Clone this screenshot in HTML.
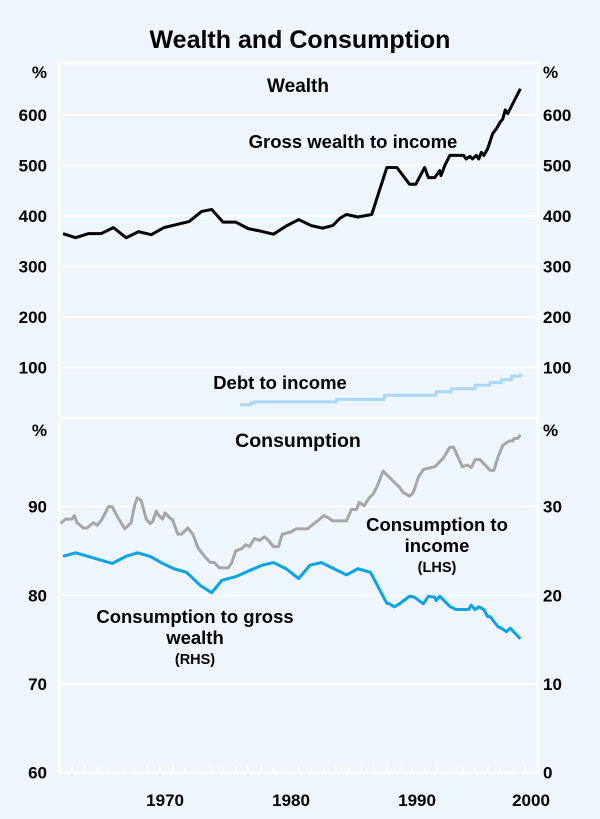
<!DOCTYPE html>
<html><head><meta charset="utf-8">
<style>
html,body{margin:0;padding:0;background:#eef5fc;}
svg{display:block;font-family:"Liberation Sans",Arial,sans-serif;font-weight:bold;}
</style></head>
<body>
<svg id="chart" width="600" height="819" viewBox="0 0 600 819" xmlns="http://www.w3.org/2000/svg">
<rect x="0" y="0" width="600" height="819" fill="#eef5fc"/>
<text x="300" y="48" text-anchor="middle" font-size="25" fill="#000">Wealth and Consumption</text>
<g id="grid"></g>
<g id="series"></g>
<g id="labels"></g>
<text x="298" y="92" text-anchor="middle" font-size="19">Wealth</text>
<text x="353" y="148" text-anchor="middle" font-size="18.5">Gross wealth to income</text>
<text x="280" y="389" text-anchor="middle" font-size="18.5">Debt to income</text>
<text x="298" y="447" text-anchor="middle" font-size="19.5">Consumption</text>
<text x="437" y="531" text-anchor="middle" font-size="18.5">Consumption to</text>
<text x="437" y="552" text-anchor="middle" font-size="18.5">income</text>
<text x="437" y="572" text-anchor="middle" font-size="14.5">(LHS)</text>
<text x="195" y="623" text-anchor="middle" font-size="18.5">Consumption to gross</text>
<text x="195" y="644" text-anchor="middle" font-size="18.5">wealth</text>
<text x="195" y="664" text-anchor="middle" font-size="14.5">(RHS)</text>
</svg>
<script>
const wealthYears=[1962.3,1963.3,1964.3,1965.3,1966.3,1967.3,1968.3,1969.3,1970.3,1971.3,1972.3,1973.3,1974.1,1975.0,1976.0,1977.0,1978.0,1979.0,1980.0,1981.0,1982.0,1982.9,1983.7,1984.3,1984.8,1985.7,1986.8,1988.0,1988.8,1989.8,1990.3,1991.0,1991.3,1991.8,1992.2,1992.3,1992.6,1993.0,1994.1,1994.3,1994.6,1994.8,1995.1,1995.3,1995.5,1995.7,1996.0,1996.4,1996.7,1997.0,1997.2,1997.4,1997.6,1998.6];
const wealthValues=[365,357,365,365,377,357,369,363,377,383,389,409,413,388,388,375,370,364,380,393,381,376,381,396,403,398,403,496,496,463,463,496,476,476,490,480,500,520,520,513,518,513,520,513,526,520,533,563,573,586,592,610,603,652];
const debtYears=[1976.35,1977.2,1977.5,1984.0,1987.8,1991.9,1993.1,1995.0,1996.2,1997.1,1997.9,1998.6];
const debtValues=[26,30,32,37,45,52,58,65,70,76,83,88];
const consYears=[1962.1,1962.5,1963.0,1963.2,1963.4,1963.9,1964.2,1964.7,1965.0,1965.4,1965.9,1966.2,1966.6,1967.2,1967.7,1968.0,1968.2,1968.5,1968.9,1969.2,1969.4,1969.7,1969.9,1970.2,1970.4,1970.8,1971.0,1971.4,1971.7,1972.2,1972.6,1973.0,1973.2,1973.6,1974.0,1974.3,1974.7,1975.4,1975.7,1976.0,1976.5,1976.8,1977.1,1977.5,1977.9,1978.3,1978.6,1979.0,1979.4,1979.7,1980.3,1980.8,1981.7,1982.5,1983.0,1983.3,1983.7,1984.8,1985.2,1985.6,1985.8,1986.2,1986.6,1986.9,1987.2,1987.4,1987.7,1989.0,1989.3,1989.8,1990.1,1990.5,1990.9,1991.8,1992.5,1993.0,1993.3,1994.0,1994.4,1994.7,1995.0,1995.4,1996.2,1996.5,1996.8,1997.2,1997.7,1998.0,1998.1,1998.4,1998.6];
const consValues=[88.1,88.6,88.6,89.0,88.2,87.6,87.6,88.2,87.9,88.6,90.0,90.0,88.9,87.5,88.2,90.3,91.0,90.7,88.6,88.1,88.3,89.5,89.0,88.6,89.3,88.7,88.5,86.9,86.9,87.6,86.9,85.4,85.0,84.3,83.7,83.7,83.1,83.1,83.7,85.0,85.3,85.7,85.5,86.4,86.2,86.6,86.2,85.5,85.5,86.9,87.1,87.5,87.5,88.4,89.0,88.8,88.4,88.4,89.7,89.7,90.5,90.1,91.0,91.4,92.2,92.9,94.0,92.2,91.6,91.2,91.6,93.3,94.2,94.5,95.5,96.7,96.7,94.5,94.7,94.4,95.3,95.3,94.1,94.1,95.5,96.9,97.4,97.4,97.7,97.7,98.1];
const cwYears=[1962.3,1963.3,1966.2,1967.3,1968.2,1969.2,1970.2,1971.1,1972.1,1973.2,1974.1,1974.9,1976.0,1977.1,1978.1,1979.0,1980.0,1981.0,1981.9,1982.8,1983.8,1984.8,1985.7,1986.7,1988.0,1988.2,1988.6,1989.0,1989.8,1990.2,1990.6,1990.9,1991.3,1991.8,1991.9,1992.2,1993.0,1993.5,1994.5,1994.7,1995.0,1995.3,1995.7,1996.0,1996.2,1996.8,1997.2,1997.5,1997.8,1998.6];
const cwValues=[24.4,24.8,23.6,24.4,24.8,24.4,23.6,23.0,22.6,21.1,20.3,21.7,22.1,22.8,23.4,23.7,23.0,21.9,23.4,23.7,23.0,22.3,23.0,22.6,19.1,19.05,18.7,19.05,19.9,19.8,19.35,19.05,19.9,19.8,19.4,19.9,18.75,18.4,18.4,18.9,18.4,18.7,18.4,17.6,17.6,16.5,16.2,15.9,16.3,15.1];
const topTicks=[100,200,300,400,500,600];
const lhsTicks=[60,70,80,90];
const rhsTicks=[0,10,20,30];
const yearLabels=[1970,1980,1990,2000];

const NS="http://www.w3.org/2000/svg";
const L=59.3,R=538,T=63,MID=418,B=772.7;
const X0=1962,X1=2000;
function xs(y){return L+(y-X0)*(R-L)/(X1-X0);}
function yTop(v){return MID-v*(MID-T)/703;}
function yL(v){return B-(v-60)*(B-MID)/40;}
function yR(v){return yL(v+60);}
function mk(tag,attrs,parent){const e=document.createElementNS(NS,tag);for(const k in attrs)e.setAttribute(k,attrs[k]);parent.appendChild(e);return e;}
const grid=document.getElementById('grid'),ser=document.getElementById('series'),lab=document.getElementById('labels');
let fr=mk('rect',{x:L,y:T,width:R-L,height:B-T,fill:'none',stroke:'#fff','stroke-width':2.5},grid);


let dv=mk('line',{x1:L,x2:R,y1:MID,y2:MID,stroke:'#fff','stroke-width':2.5},grid);


topTicks.forEach(v=>{
  const g=mk('line',{x1:L,x2:R,y1:yTop(v),y2:yTop(v),stroke:'#fff','stroke-width':2},grid);
  
  
  const t1=mk('text',{x:47,y:yTop(v)+6,'text-anchor':'end','font-size':17},lab);t1.textContent=v;
  
  
  const t2=mk('text',{x:543,y:yTop(v)+6,'text-anchor':'start','font-size':17},lab);t2.textContent=v;
  
  
});
lhsTicks.forEach(v=>{
  if(v>60){const g=mk('line',{x1:L,x2:R,y1:yL(v),y2:yL(v),stroke:'#fff','stroke-width':2},grid);
  
  }
  const t1=mk('text',{x:47,y:yL(v)+6,'text-anchor':'end','font-size':17},lab);t1.textContent=v;
  
  
});
rhsTicks.forEach(v=>{
  const t2=mk('text',{x:543,y:yR(v)+6,'text-anchor':'start','font-size':17},lab);t2.textContent=v;
  
  
});
[[47,'end',78],[543,'start',78],[47,'end',436],[543,'start',436]].forEach(p=>{
  const t=mk('text',{x:p[0],y:p[2],'text-anchor':p[1],'font-size':17},lab);t.textContent='%';
  
  
});
for(let y=X0+1;y<X1;y++){
  const tk=mk('line',{x1:xs(y),x2:xs(y),y1:B,y2:B-7,stroke:'#fff','stroke-width':2},grid);
  
  
}
yearLabels.forEach(y=>{
  const t=mk('text',{x:Math.min(xs(y)+5,531),y:806,'text-anchor':'middle','font-size':17},lab);t.textContent=y;
  
  
});
function line(xsArr,vals,yf,color,name,step){
  let d='';
  xsArr.forEach((x,i)=>{
    const px=xs(x),py=yf(vals[i]);
    if(i===0)d+='M'+px+' '+py;
    else if(step)d+=' H'+px+' V'+py;
    else d+=' L'+px+' '+py;
  });
  const p=mk('path',{d:d,fill:'none',stroke:color,'stroke-width':3,'stroke-linejoin':'round'},ser);
  
  
}
line(debtYears,debtValues,yTop,'#a9d8f5','debt-to-income-line',true);
line(wealthYears,wealthValues,yTop,'#000','gross-wealth-line',false);
line(consYears,consValues,yL,'#a6a6a6','consumption-to-income-line',false);
line(cwYears,cwValues,yR,'#0aa3e3','consumption-to-wealth-line',false);
</script>
</body></html>
